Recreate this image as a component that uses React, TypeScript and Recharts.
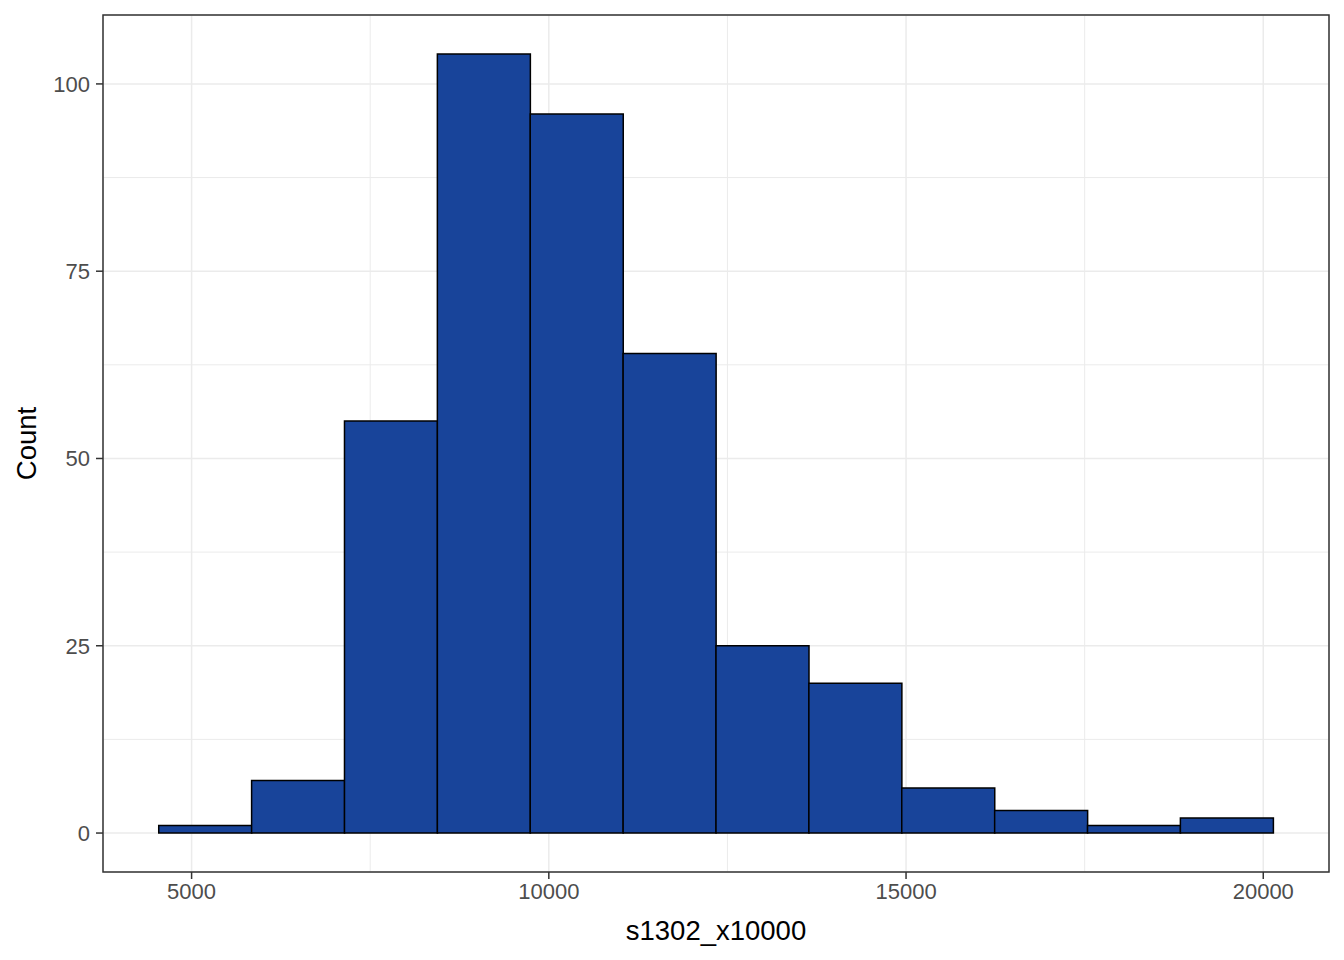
import React from "react";
import {
  ComposedChart,
  Bar,
  XAxis,
  YAxis,
  CartesianGrid,
  ReferenceArea,
  Label,
} from "recharts";

// histogram bins of s1302_x10000 (bin width 1300)
const BIN_START = [4540, 5840, 7140, 8440, 9740, 11040, 12340, 13640, 14940, 16240, 17540, 18840];
const BIN_END = [5840, 7140, 8440, 9740, 11040, 12340, 13640, 14940, 16240, 17540, 18840, 20140];
const COUNTS = [1, 7, 55, 104, 96, 64, 25, 20, 6, 3, 1, 2];

const X_TICKS = [5000, 10000, 15000, 20000];
const X_MINOR = [7500, 12500, 17500];
const Y_TICKS = [0, 25, 50, 75, 100];
const Y_MINOR = [12.5, 37.5, 62.5, 87.5];

const X_DOMAIN = [3760, 20920];
const Y_DOMAIN = [-5.2, 109.2];

const data = COUNTS.map((count, i) => ({
  mid: (BIN_START[i] + BIN_END[i]) / 2,
  count,
}));

const FONT = "Liberation Sans, Arial, sans-serif";

const CountLabel = (props: any) => {
  const vb = props.viewBox || { x: 0, y: 15, width: 103, height: 857 };
  const cy = vb.y + vb.height / 2;
  return (
    <text
      x={36}
      y={cy}
      transform={`rotate(-90, 36, ${cy})`}
      textAnchor="middle"
      fontSize={27.5}
      fill="#000"
      fontFamily={FONT}
    >
      Count
    </text>
  );
};

export default function App() {
  return (
    <div style={{ position: "absolute", left: 0, top: 0, background: "#fff" }}>
      <ComposedChart
        width={1344}
        height={960}
        data={data}
        margin={{ top: 15, right: 15, bottom: 0, left: 0 }}
        barCategoryGap={0}
        barGap={0}
        style={{ fontFamily: FONT }}
      >
        <CartesianGrid
          stroke="#ebebeb"
          strokeWidth={1}
          verticalValues={X_MINOR}
          horizontalValues={Y_MINOR}
        />
        <CartesianGrid stroke="#ebebeb" strokeWidth={1.5} />
        <XAxis
          dataKey="mid"
          type="number"
          domain={X_DOMAIN}
          ticks={X_TICKS}
          allowDataOverflow
          height={88}
          axisLine={false}
          tickLine={{ stroke: "#333333", strokeWidth: 1.5 }}
          tickSize={7}
          tick={{ fill: "#4d4d4d", fontSize: 22 }}
          tickMargin={4}
        >
          <Label value="s1302_x10000" position="insideBottom" offset={20} fill="#000" fontSize={27.5} />
        </XAxis>
        <YAxis
          type="number"
          domain={Y_DOMAIN}
          ticks={Y_TICKS}
          allowDataOverflow
          width={103}
          axisLine={false}
          tickLine={{ stroke: "#333333", strokeWidth: 1.5 }}
          tickSize={7}
          tick={{ fill: "#4d4d4d", fontSize: 22 }}
          tickMargin={6}
        >
          <Label content={CountLabel} />
        </YAxis>
        <Bar
          dataKey="count"
          fill="#18449a"
          stroke="#000"
          strokeWidth={1.5}
          isAnimationActive={false}
        />
        <ReferenceArea
          x1={X_DOMAIN[0]}
          x2={X_DOMAIN[1]}
          y1={Y_DOMAIN[0]}
          y2={Y_DOMAIN[1]}
          fill="none"
          stroke="#333333"
          strokeWidth={1.5}
        />
      </ComposedChart>
    </div>
  );
}
